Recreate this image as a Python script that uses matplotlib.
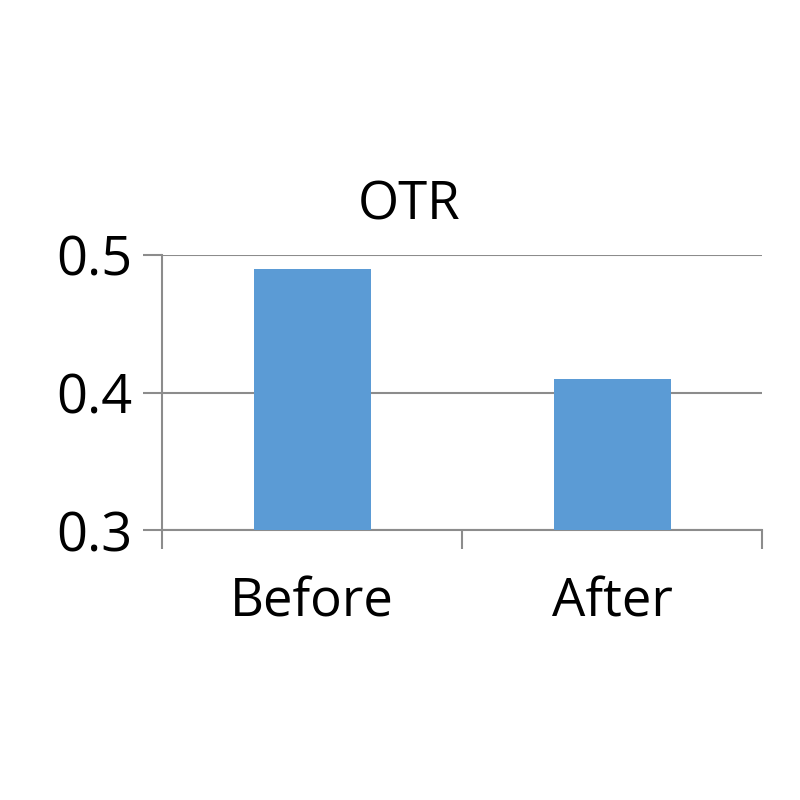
#!/usr/bin/env python

import numpy as np
import matplotlib
matplotlib.use("Agg")
import matplotlib.pyplot as plt
from matplotlib import rcParams

rcParams['font.family'] = ['Open Sans', 'DejaVu Sans']

categories = ["Before", "After"]
otr_values = [0.49, 0.41]
y_ticks = [0.3, 0.4, 0.5]
y_tick_labels = ["0.3", "0.4", "0.5"]

line_color = '#8c8c8c'

fig = plt.figure(figsize=(8, 8), dpi=100)
ax = fig.add_axes([0.2025, 0.3375, 0.75, 0.34375])

x = np.arange(len(categories))
ax.bar(x, otr_values, width=0.39, color='#5b9bd5', zorder=3)

ax.set_xlim(-0.5, len(categories) - 0.5)
ax.set_ylim(0.3, 0.5)

ax.set_yticks(y_ticks)
ax.set_yticklabels(y_tick_labels, fontsize=39)
ax.yaxis.grid(True, color=line_color, linewidth=1.5, zorder=0)

ax.set_xticks(x)
ax.set_xticklabels(categories, fontsize=38)
ax.set_xticks(np.arange(len(categories) + 1) - 0.5, minor=True)
ax.tick_params(axis='x', which='major', length=0, pad=33)
ax.tick_params(axis='x', which='minor', length=14, width=1.5, color=line_color)
ax.tick_params(axis='y', length=14, width=1.5, color=line_color, pad=7)

for side in ['top', 'right']:
    ax.spines[side].set_visible(False)
for side in ['left', 'bottom']:
    ax.spines[side].set_color(line_color)
    ax.spines[side].set_linewidth(1.5)

fig.text(0.511, 0.725, "OTR", fontsize=38, ha='center', va='baseline')

plt.savefig("out.png", dpi=100, facecolor='white')
